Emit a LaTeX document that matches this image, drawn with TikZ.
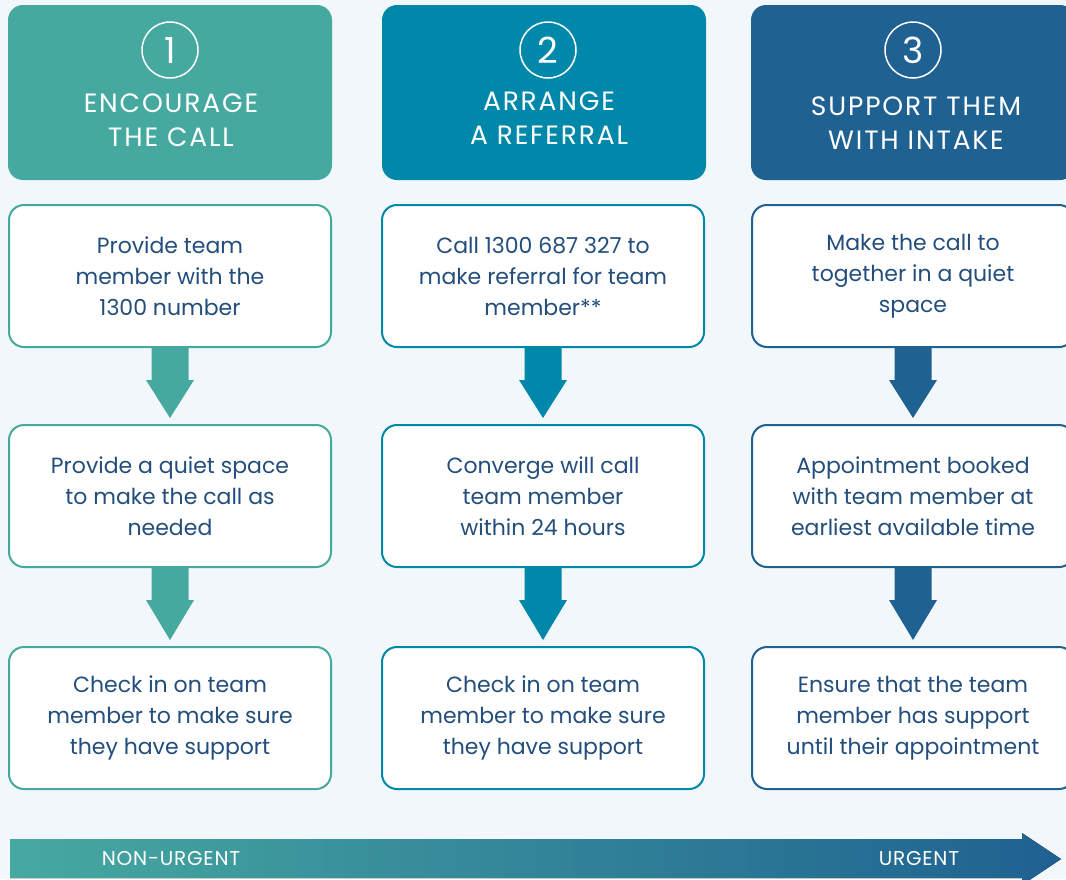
\documentclass[tikz,border=0pt]{standalone}
\usepackage{fontspec}
\setmainfont{Poppins}
\newfontfamily\headfont[LetterSpace=7]{Poppins}
\newfontfamily\scalefont[LetterSpace=4]{Poppins}
\usetikzlibrary{positioning,calc}

\definecolor{encteal}{RGB}{70,169,160}
\definecolor{refblue}{RGB}{0,136,170}
\definecolor{intnavy}{RGB}{31,97,145}
\definecolor{steptext}{RGB}{35,78,124}
\definecolor{pagebg}{RGB}{242,247,251}

\begin{document}
\begin{tikzpicture}[x=1pt,y=-1pt,
	every node/.style={inner sep=0pt,outer sep=0pt},
	headbox/.style={rounded corners=15pt,minimum width=324pt,minimum height=175pt},
	numring/.style={circle,draw=white,line width=1.5pt,minimum size=56pt,text=white,font=\fontsize{36}{36}\selectfont},
	headtext/.style={text=white,align=center,font=\headfont\fontsize{26.5}{34}\selectfont},
	stepbox/.style={draw,fill=white,line width=2pt,rounded corners=15pt,minimum width=322pt,minimum height=142pt,align=center,text=steptext,font=\fontsize{22}{31}\selectfont},
	scaletext/.style={text=white,font=\scalefont\fontsize{20}{20}\selectfont}]
			\fill[pagebg] (0,0) rectangle (1066,879);
			\useasboundingbox (0,0) rectangle (1066,879);
			\clip (0,0) rectangle (1066,879);

			%headers
			\node [headbox,fill=encteal] (h1) at (170,92.5) {};
			\node [headbox,fill=refblue] (h2) at (544,92.5) {};
			\node [headbox,fill=intnavy] (h3) at (913,92.5) {};

			\node [numring] (n1) at (170,50) {1};
			\node [numring] (n2) at (548,50) {2};
			\node [numring] (n3) at (913,50) {3};

			\node [headtext] (t1) at (171,120) {ENCOURAGE\\THE CALL};
			\node [headtext] (t2) at (549,118) {ARRANGE\\A REFERRAL};
			\node [headtext] (t3) at (916,123) {SUPPORT THEM\\WITH INTAKE};

			%left column
			\node [stepbox,draw=encteal] (b11) at (170,276) {Provide team\\member with the\\1300 number};
			\node [stepbox,draw=encteal] (b12) at (170,496) {Provide a quiet space\\to make the call as\\needed};
			\node [stepbox,draw=encteal] (b13) at (170,718) {Check in on team\\member to make sure\\they have support};

			%middle column
			\node [stepbox,draw=refblue] (b21) at (543,276) {Call 1300 687 327 to\\make referral for team\\member**};
			\node [stepbox,draw=refblue] (b22) at (543,496) {Converge will call\\team member\\within 24 hours};
			\node [stepbox,draw=refblue] (b23) at (543,718) {Check in on team\\member to make sure\\they have support};

			%right column
			\node [stepbox,draw=intnavy] (b31) at (913,276) {Make the call to\\together in a quiet\\space};
			\node [stepbox,draw=intnavy] (b32) at (913,496) {Appointment booked\\with team member at\\earliest available time};
			\node [stepbox,draw=intnavy] (b33) at (913,718) {Ensure that the team\\member has support\\until their appointment};

			%arrows
			\fill[encteal] ($(b11.south)+(-18.5,0)$) -- ++(0,33) -- ++(-5.5,0) -- ($(b12.north)+(0,-7)$) -- ($(b11.south)+(24,33)$) -- ++(-5.5,0) -- ++(0,-33) -- cycle;
			\fill[encteal] ($(b12.south)+(-18.5,0)$) -- ++(0,33) -- ++(-5.5,0) -- ($(b13.north)+(0,-7)$) -- ($(b12.south)+(24,33)$) -- ++(-5.5,0) -- ++(0,-33) -- cycle;

			\fill[refblue] ($(b21.south)+(-18.5,0)$) -- ++(0,33) -- ++(-5.5,0) -- ($(b22.north)+(0,-7)$) -- ($(b21.south)+(24,33)$) -- ++(-5.5,0) -- ++(0,-33) -- cycle;
			\fill[refblue] ($(b22.south)+(-18.5,0)$) -- ++(0,33) -- ++(-5.5,0) -- ($(b23.north)+(0,-7)$) -- ($(b22.south)+(24,33)$) -- ++(-5.5,0) -- ++(0,-33) -- cycle;

			\fill[intnavy] ($(b31.south)+(-18.5,0)$) -- ++(0,33) -- ++(-5.5,0) -- ($(b32.north)+(0,-7)$) -- ($(b31.south)+(24,33)$) -- ++(-5.5,0) -- ++(0,-33) -- cycle;
			\fill[intnavy] ($(b32.south)+(-18.5,0)$) -- ++(0,33) -- ++(-5.5,0) -- ($(b33.north)+(0,-7)$) -- ($(b32.south)+(24,33)$) -- ++(-5.5,0) -- ++(0,-33) -- cycle;

			%urgency scale
			\fill[left color=encteal,right color=intnavy] (10,839) -- (1022,839) -- (1022,833) -- (1061,859) -- (1022,885) -- (1022,878) -- (10,878) -- cycle;
			\node [scaletext] (low) at (171,859) {NON-URGENT};
			\node [scaletext] (high) at (919,859) {URGENT};
		\end{tikzpicture}
\end{document}
